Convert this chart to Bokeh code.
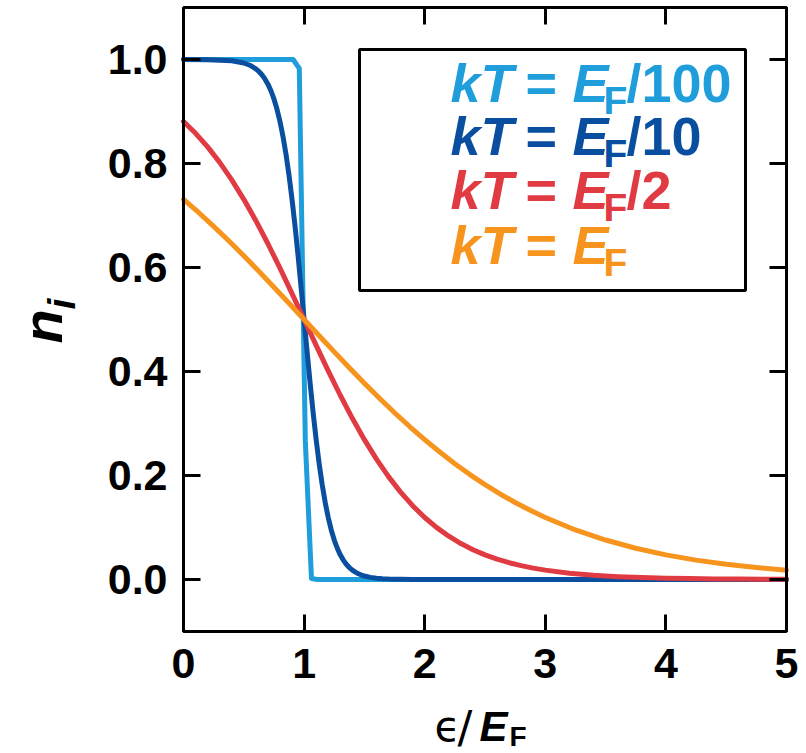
import math
from bokeh.plotting import figure
from bokeh.models import Label, LinearAxis, FixedTicker, BoxAnnotation, Range1d
from bokeh.embed import file_html
from bokeh.resources import INLINE

# ---------------- data ----------------
# kT = E_F/100
x_100 = [0.0, 0.909, 0.960, 1.010, 1.061, 1.111, 5.0]
n_100 = [1.0, 1.0, 0.983, 0.267, 0.002, 0.0, 0.0]

# kT = E_F/10
x_10 = [0.0, 0.2, 0.4, 0.5, 0.55, 0.6, 0.625, 0.65, 0.675, 0.7, 0.725, 0.75, 0.775, 0.8,
        0.825, 0.85, 0.875, 0.9, 0.925, 0.95, 0.975, 1.0, 1.025, 1.05, 1.075, 1.1, 1.125,
        1.15, 1.175, 1.2, 1.225, 1.25, 1.275, 1.3, 1.325, 1.35, 1.375, 1.4, 1.425, 1.45,
        1.475, 1.5, 1.55, 1.6, 1.65, 1.7, 1.75, 1.8, 1.9, 2.0, 5.0]
n_10 = [1.0, 0.9997, 0.9975, 0.9933, 0.989, 0.982, 0.977, 0.9707, 0.9627, 0.9526, 0.9399,
        0.9241, 0.9047, 0.8808, 0.852, 0.8176, 0.7773, 0.7311, 0.6792, 0.6225, 0.5622, 0.5,
        0.4378, 0.3775, 0.3208, 0.2689, 0.2227, 0.1824, 0.148, 0.1192, 0.0953, 0.0759,
        0.0601, 0.0474, 0.0373, 0.0293, 0.023, 0.018, 0.0141, 0.011, 0.0086, 0.0067,
        0.0041, 0.0025, 0.0015, 0.0009, 0.0006, 0.0003, 0.0001, 0.0, 0.0]

# kT = E_F/2
x_2 = [0.0, 0.1, 0.2, 0.3, 0.4, 0.5, 0.6, 0.7, 0.8, 0.9, 1.0, 1.1, 1.2, 1.3, 1.4, 1.5,
       1.6, 1.7, 1.8, 1.9, 2.0, 2.1, 2.2, 2.3, 2.4, 2.5, 2.6, 2.7, 2.8, 2.9, 3.0,
       3.2, 3.4, 3.6, 3.8, 4.0, 4.2, 4.4, 4.6, 4.8, 5.0]
n_2 = [0.8808, 0.8581, 0.832, 0.8022, 0.7685, 0.7311, 0.69, 0.6457, 0.5987, 0.5498, 0.5,
       0.4502, 0.4013, 0.3543, 0.31, 0.2689, 0.2315, 0.1978, 0.168, 0.1419, 0.1192, 0.0998,
       0.0832, 0.0691, 0.0573, 0.0474, 0.0392, 0.0323, 0.0266, 0.0219, 0.018,
       0.0121, 0.0082, 0.0055, 0.0037, 0.0025, 0.0017, 0.0011, 0.0008, 0.0005, 0.0003]

# kT = E_F
x_1 = [0.0, 0.125, 0.25, 0.375, 0.5, 0.625, 0.75, 0.875, 1.0, 1.125, 1.25, 1.375, 1.5,
       1.625, 1.75, 1.875, 2.0, 2.125, 2.25, 2.375, 2.5, 2.625, 2.75, 2.875, 3.0, 3.25,
       3.5, 3.75, 4.0, 4.25, 4.5, 4.75, 5.0]
n_1 = [0.7311, 0.7058, 0.6792, 0.6514, 0.6225, 0.5927, 0.5622, 0.5312, 0.5, 0.4688,
       0.4378, 0.4073, 0.3775, 0.3486, 0.3208, 0.2942, 0.2689, 0.2451, 0.2227, 0.2018,
       0.1824, 0.1645, 0.148, 0.133, 0.1192, 0.0953, 0.0759, 0.0601, 0.0474, 0.0373,
       0.0293, 0.023, 0.018]

series_x = [x_100, x_10, x_2, x_1]
series_n = [n_100, n_10, n_2, n_1]
series_suffix = ["/100", "/10", "/2", ""]
series_colors = ["#1f9edb", "#0a4f9f", "#e03b42", "#f7941e"]

x_ticks = [0, 1, 2, 3, 4, 5]
x_tick_labels = ["0", "1", "2", "3", "4", "5"]
y_ticks = [0.0, 0.2, 0.4, 0.6, 0.8, 1.0]
y_tick_labels = ["0.0", "0.2", "0.4", "0.6", "0.8", "1.0"]

X_MIN, X_MAX = 0.0, 5.0
Y_MIN, Y_MAX = -0.1, 1.1

# ---------------- layout ----------------
W, H = 806, 753
FL, FR, FT, FB = 183, 786, 7, 631          # pixel box of the data area
SX = (FR - FL) / (X_MAX - X_MIN)
SY = (FB - FT) / (Y_MAX - Y_MIN)
SHIFT = 0.32                               # baseline correction (em)

def dx(px):
    return X_MIN + (px - FL) / SX

def dy(py):
    return Y_MAX - (py - FT) / SY

FONT = "Liberation Sans"

p = figure(width=W, height=H, output_backend="svg", toolbar_location=None,
           x_range=Range1d(dx(0), dx(W)), y_range=Range1d(dy(H), dy(0)),
           x_axis_type=None, y_axis_type=None,
           min_border_left=0, min_border_right=0,
           min_border_top=0, min_border_bottom=0)
p.grid.visible = False
p.outline_line_color = None
p.background_fill_color = "white"
p.border_fill_color = "white"

def make_axis(ticks, labels, show_labels, standoff, loc):
    ax = LinearAxis(ticker=FixedTicker(ticks=ticks), fixed_location=loc)
    ax.major_label_overrides = {t: l for t, l in zip(ticks, labels)}
    ax.axis_line_color = None
    ax.major_tick_in = 17
    ax.major_tick_out = 0
    ax.major_tick_line_width = 3
    ax.major_tick_line_color = "black"
    ax.minor_tick_line_color = None
    ax.major_label_standoff = standoff
    if show_labels:
        ax.major_label_text_font = FONT
        ax.major_label_text_font_style = "bold"
        ax.major_label_text_font_size = "43px"
        ax.major_label_text_color = "black"
    else:
        ax.major_label_text_font_size = "0px"
        ax.major_label_text_alpha = 0
    return ax

p.add_layout(make_axis(x_ticks, x_tick_labels, True, 17, Y_MIN), "below")
p.add_layout(make_axis(y_ticks, y_tick_labels, True, 16, X_MIN), "left")
p.add_layout(make_axis(x_ticks, x_tick_labels, False, 0, Y_MAX), "above")
p.add_layout(make_axis(y_ticks, y_tick_labels, False, 0, X_MAX), "right")

# curves
for xs, ns, c in zip(series_x, series_n, series_colors):
    p.line(xs, ns, line_color=c, line_width=5, line_join="round", line_cap="round")

# plot frame
p.add_layout(BoxAnnotation(left=X_MIN, right=X_MAX, top=Y_MAX, bottom=Y_MIN,
                           fill_color=None, line_color="black", line_width=3,
                           line_alpha=1.0))

# legend box
p.add_layout(BoxAnnotation(left=dx(359), right=dx(745), top=dy(49), bottom=dy(290),
                           fill_color="white", fill_alpha=1.0,
                           line_color="black", line_width=3, line_alpha=1.0))

def text(t, px, py, size, color="black", style="bold", font=FONT, rotated=False):
    if rotated:
        x, y, ang = px - SHIFT * size, py, math.pi / 2
    else:
        x, y, ang = px, py - SHIFT * size, 0.0
    p.add_layout(Label(x=dx(x), y=dy(y), text=t, text_font=font,
                       text_font_style=style, text_font_size=f"{size}px",
                       text_color=color, angle=ang,
                       text_align="left", text_baseline="alphabetic"))

row_base = [100, 153, 207, 262]
for i, (suf, c) in enumerate(zip(series_suffix, series_colors)):
    b = row_base[i]
    p.segment(x0=[dx(376)], y0=[dy(b - 15)], x1=[dx(434)], y1=[dy(b - 15)],
              line_color=c, line_width=5)
    text("kT", 450, b, 54, c, "bold italic")
    text("=", 525, b, 54, c, "bold")
    text("E", 572, b, 54, c, "bold italic")
    text("F", 603, b + 12, 39, c, "bold")
    if suf:
        text(suf, 626, b, 54, c, "bold")

# x-axis label  ϵ/E_F
text("\u03f5", 434, 739, 42, style="normal", font="DejaVu Sans")
text("/", 457, 741, 44, style="normal", font="DejaVu Sans")
text("E", 479, 739, 42, style="bold italic")
text("F", 509, 745, 28, style="bold")

# y-axis label  n_i (rotated)
text("n", 60, 343, 56, style="bold italic", rotated=True)
text("i", 73, 309, 39, style="bold italic", rotated=True)

open("out.html", "w").write(file_html(p, INLINE))
